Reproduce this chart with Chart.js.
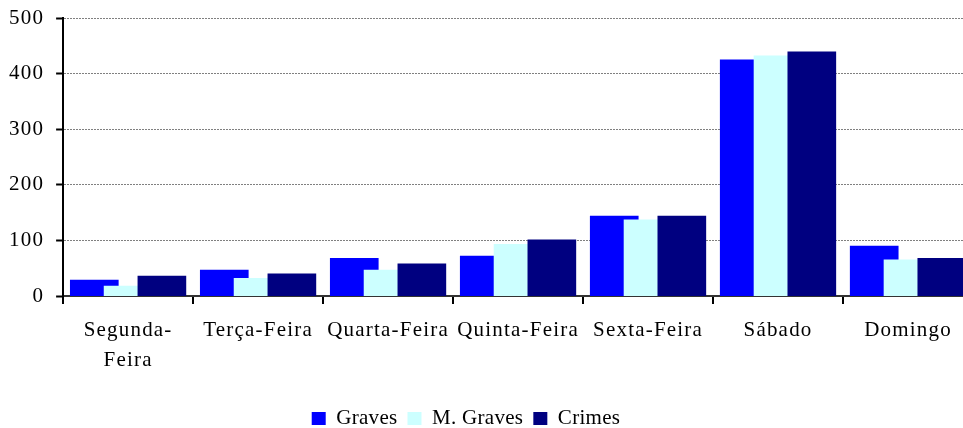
<!DOCTYPE html>
<html>
<head>
<meta charset="utf-8">
<script src="https://cdn.jsdelivr.net/npm/chart.js@4"></script>
<style>
  html, body { margin: 0; padding: 0; background: #fff; overflow: hidden; }
  #wrap { width: 963px; height: 428px; overflow: hidden; }
</style>
</head>
<body>
<div id="wrap"><canvas id="chart" width="975" height="428"></canvas></div>
<script>
const days = [['Segunda-', 'Feira'], 'Terça-Feira', 'Quarta-Feira', 'Quinta-Feira', 'Sexta-Feira', 'Sábado', 'Domingo'];
const graves = [29, 47, 68, 72, 144, 425, 90];
const mGraves = [18, 32, 47, 93, 137, 432, 65];
const crimes = [36, 40, 58, 101, 144, 439, 68];
const yTicks = [0, 100, 200, 300, 400, 500];

const serif = '"Liberation Serif", "Times New Roman", serif';
Chart.defaults.font.family = serif;
Chart.defaults.color = '#000';

// bars overlap like the old Excel chart, so each series sits a bit off the category centre
const step = 0.26;
const points = (values, shift) => values.map((v, i) => ({ x: i + shift, y: v }));

// axis text in the original is spaced out, legend text less so;
// the legend also sits left of and lower than where Chart.js puts it
const AXIS_SPACING = '1.2px';
const LEGEND_SPACING = '0.3px';
const tweaks = {
  id: 'tweaks',
  beforeUpdate(chart) {
    chart.ctx.letterSpacing = AXIS_SPACING;
    const lg = chart.legend;
    if (lg && !lg._spaced) {
      lg._spaced = true;
      for (const m of ['fit', 'draw']) {
        const orig = lg[m];
        lg[m] = function (...args) {
          this.ctx.letterSpacing = LEGEND_SPACING;
          const r = orig.apply(this, args);
          this.ctx.letterSpacing = AXIS_SPACING;
          return r;
        };
      }
    }
  },
  beforeDraw(chart) { chart.ctx.letterSpacing = AXIS_SPACING; },
  afterLayout(chart) {
    const lg = chart.legend;
    lg.left -= 19; lg.right -= 19;
    lg.top += 11; lg.bottom += 11;
  }
};

new Chart(document.getElementById('chart'), {
  type: 'bar',
  data: {
    labels: days,
    datasets: [
      { label: 'Graves', data: points(graves, -step), backgroundColor: '#0000ff', order: 3, xAxisID: 'xb' },
      { label: 'M. Graves', data: points(mGraves, 0), backgroundColor: '#ccffff', order: 2, xAxisID: 'xb' },
      { label: 'Crimes', data: points(crimes, step), backgroundColor: '#000080', order: 1, xAxisID: 'xb' }
    ]
  },
  options: {
    responsive: false,
    animation: false,
    datasets: { bar: { grouped: false, barThickness: 48 } },
    layout: { padding: { left: -3, right: 2, top: 18, bottom: 0 } },
    plugins: {
      tooltip: { enabled: false },
      legend: {
        position: 'bottom',
        reverse: true,
        labels: { boxWidth: 14, boxHeight: 13, padding: 10, font: { size: 21 } }
      }
    },
    scales: {
      x: {
        type: 'category',
        offset: true,
        grid: { offset: true, drawOnChartArea: false, tickLength: 8, color: '#000', lineWidth: 2 },
        border: { color: '#333', width: 2 },
        ticks: { font: { size: 21, lineHeight: 1.45 }, padding: 11, maxRotation: 0, autoSkip: false }
      },
      xb: { type: 'linear', display: false, offset: false, min: -0.5, max: 6.5 },
      y: {
        min: 0,
        max: 500,
        afterBuildTicks: scale => { scale.ticks = yTicks.map(v => ({ value: v })); },
        afterFit: scale => { scale.paddingTop = 0; },
        grid: {
          color: c => c.tick && c.tick.value === 0 ? 'rgba(0,0,0,0)' : '#808080',
          lineWidth: 1,
          tickColor: '#000',
          tickWidth: 2,
          tickLength: 7
        },
        border: { color: '#000', width: 2, dash: [2, 1] },
        ticks: { font: { size: 21 }, padding: 12 }
      }
    }
  },
  plugins: [tweaks]
});
</script>
</body>
</html>
